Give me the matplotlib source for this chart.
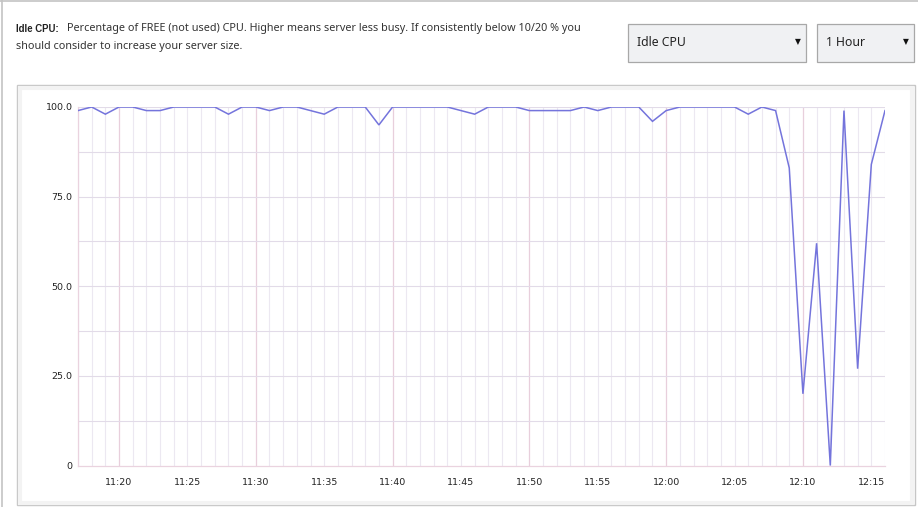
import matplotlib
matplotlib.use("Agg")
import matplotlib.pyplot as plt
from matplotlib.patches import Rectangle
import numpy as np

# ---------------- data ----------------
start_minute = 17            # 11:17, one sample per minute
idle_cpu = [99, 100, 98, 100, 100, 99, 99, 100, 100, 100,
            100, 98, 100, 100, 99, 100, 100, 99, 98, 100,
            100, 100, 95, 100, 100, 100, 100, 100, 99, 98,
            100, 100, 100, 99, 99, 99, 99, 100, 99, 100,
            100, 100, 96, 99, 100, 100, 100, 100, 100, 98,
            100, 99, 83, 20, 62, 0, 99, 27, 84, 99]
tick_minutes = [20, 25, 30, 35, 40, 45, 50, 55, 60, 65, 70, 75]
tick_labels = ["11:20", "11:25", "11:30", "11:35", "11:40", "11:45",
               "11:50", "11:55", "12:00", "12:05", "12:10", "12:15"]
y_ticks = [0, 25, 50, 75, 100]
y_tick_labels = ["0", "25.0", "50.0", "75.0", "100.0"]

title_bold = "Idle CPU:"
title_line1 = "Percentage of FREE (not used) CPU. Higher means server less busy. If consistently below 10/20 % you"
title_line2 = "should consider to increase your server size."
dropdown1 = "Idle CPU"
dropdown2 = "1 Hour"

# ---------------- figure ----------------
W, H = 918, 507
fig = plt.figure(figsize=(W / 100, H / 100), dpi=100)
fig.patch.set_facecolor("white")

def fx(px):
    return px / W

def fy(py):
    return 1 - py / H

def frect(x0, y0, x1, y1, **kw):
    r = Rectangle((fx(x0), fy(y1)), fx(x1) - fx(x0), fy(y0) - fy(y1),
                  transform=fig.transFigure, zorder=-10, **kw)
    fig.patches.append(r)
    return r

# page borders
fig.add_artist(plt.Line2D([0, 1], [fy(0.5), fy(0.5)], transform=fig.transFigure,
                          color="#c4c4c4", lw=1.2, zorder=-5))
fig.add_artist(plt.Line2D([fx(1.5), fx(1.5)], [0, 1], transform=fig.transFigure,
                          color="#c4c4c4", lw=1.2, zorder=-5))

# header text
nfont = ["Noto Sans", "DejaVu Sans"]
fig.text(fx(16), fy(29), title_bold, fontsize=6.9, fontweight="bold",
         family=["Liberation Sans", "DejaVu Sans"], color="#222222", va="center", ha="left")
fig.text(fx(67), fy(29), title_line1, fontsize=7.8,
         family=nfont, color="#333333", va="center", ha="left")
fig.text(fx(16), fy(47), title_line2, fontsize=7.8,
         family=nfont, color="#333333", va="center", ha="left")

# dropdowns
for (x0, x1, label, ax_x) in [(628, 806, dropdown1, 798), (817, 914, dropdown2, 906)]:
    frect(x0 + 1, 25, x1 + 1, 63, facecolor="#c8c8c8", edgecolor="none")
    frect(x0, 24, x1, 62, facecolor="#f0f1f3", edgecolor="#a8a8a8", lw=0.9)
    fig.text(fx(x0 + 9), fy(43), label, fontsize=8.8, family=nfont,
             color="#222222", va="center", ha="left")
    fig.text(fx(ax_x), fy(42), "\u25bc", fontsize=5.5, family=["DejaVu Sans"],
             color="#111111", va="center", ha="center")

# chart box
frect(17, 85, 915, 505, facecolor="white", edgecolor="#c6c6c6", lw=1.0)
frect(19.5, 87.5, 912.5, 502.5, facecolor="none", edgecolor="#f3f3f3", lw=3)

# ---------------- axes ----------------
left, right = 78, 885
top, bottom = 107, 465.5
ax = fig.add_axes([fx(left), fy(bottom), fx(right) - fx(left), fy(top) - fy(bottom)])
ax.set_facecolor("white")

x = np.arange(start_minute, start_minute + len(idle_cpu))
ax.set_xlim(x[0], x[-1])
ax.set_ylim(0, 100)

# grid
for m in x:
    if m % 10 == 0:
        ax.axvline(m, color="#e8cfdc", lw=0.9, zorder=1)
    else:
        ax.axvline(m, color="#ece8f1", lw=0.8, zorder=1)
for v in np.arange(12.5, 100, 12.5):
    ax.axhline(v, color="#e2dbe8", lw=0.8, zorder=1)
ax.axhline(100, color="#e2dbe8", lw=0.8, zorder=1)

for s in ["top", "right"]:
    ax.spines[s].set_visible(False)
for s in ["left", "bottom"]:
    ax.spines[s].set_color("#ead3df")
    ax.spines[s].set_linewidth(0.9)

ax.plot(x, idle_cpu, color="#7474dc", lw=1.1, zorder=3, solid_joinstyle="miter")

ax.set_xticks(tick_minutes)
ax.set_xticklabels(tick_labels)
ax.set_yticks(y_ticks)
ax.set_yticklabels(y_tick_labels)
ax.tick_params(axis="both", length=0, labelsize=6.8, labelcolor="#222222")
ax.tick_params(axis="x", pad=9)
ax.tick_params(axis="y", pad=4)
for lab in ax.get_xticklabels() + ax.get_yticklabels():
    lab.set_family("DejaVu Sans")

fig.savefig("out.png", dpi=100)
